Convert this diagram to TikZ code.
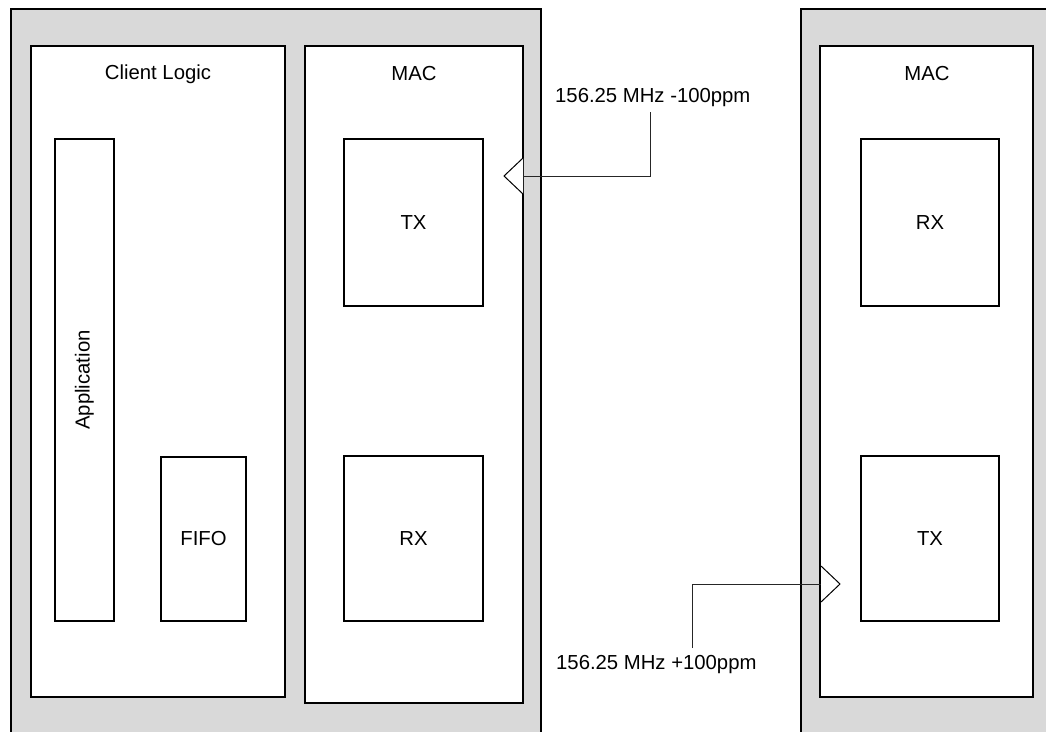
\documentclass[tikz,border=0pt]{standalone}
\usepackage{fontspec}
\setmainfont{Liberation Sans}
\begin{document}
\begin{tikzpicture}[x=1pt,y=-1pt,
  outerbox/.style={draw=black,fill=black!15,line width=1.5pt},
  blk/.style={draw=black,fill=white,line width=1.4pt,inner sep=0pt,outer sep=0pt,anchor=north west},
  lbl/.style={font=\fontsize{20.3}{24}\selectfont,inner sep=0pt},
  wire/.style={draw=black!85,line width=1pt},
  port/.style={draw=black,fill=white,line width=1pt,line join=miter}]
\useasboundingbox (0,0) rectangle (1046,731);
\begin{scope}
\clip (0,0) rectangle (1046,731);
\draw[outerbox] (11,9) rectangle (541,760);
\draw[outerbox] (801,9) rectangle (1080,760);
\end{scope}
% left side
\node[blk,minimum width=254pt,minimum height=651pt] (client) at (31,46) {};
\node[lbl,anchor=center] (clientlbl) at (158,74) {Client Logic};
\node[blk,minimum width=59pt,minimum height=482pt] (app) at (55,139) {};
\node[lbl,rotate=90] (applbl) at (app.center) {Application};
\node[blk,minimum width=85pt,minimum height=164pt] (fifo) at (161,457) {};
\node[lbl] (fifolbl) at (fifo.center) {FIFO};
\node[blk,minimum width=218pt,minimum height=657pt] (macl) at (305,46) {};
\node[lbl] (macllbl) at (414,74) {MAC};
\node[blk,minimum width=139pt,minimum height=167pt] (txl) at (344,139) {};
\node[lbl] (txllbl) at (txl.center) {TX};
\node[blk,minimum width=139pt,minimum height=165pt] (rxl) at (344,456) {};
\node[lbl] (rxllbl) at (rxl.center) {RX};
% right side
\node[blk,minimum width=213pt,minimum height=651pt] (macr) at (820,46) {};
\node[lbl] (macrlbl) at (927,74) {MAC};
\node[blk,minimum width=138pt,minimum height=167pt] (rxr) at (861,139) {};
\node[lbl] (rxrlbl) at (rxr.center) {RX};
\node[blk,minimum width=138pt,minimum height=165pt] (txr) at (861,456) {};
\node[lbl] (txrlbl) at (txr.center) {TX};
% clock labels
\node[lbl,anchor=west] (clk1) at (555,98) {156.25 MHz -100ppm};
\node[lbl,anchor=west] (clk2) at (556,665) {156.25 MHz +100ppm};
% clock ports
\coordinate (p1top) at (523,158);
\coordinate (p1tip) at (504,176);
\coordinate (p1bot) at (523,194);
\coordinate (p1base) at (523,176);
\coordinate (c1end) at (650,112);
\draw[port] (p1top) -- (p1tip) -- (p1bot);
\draw[wire] (c1end) |- (p1base);
\coordinate (p2top) at (821,566);
\coordinate (p2tip) at (840,584);
\coordinate (p2bot) at (821,602);
\coordinate (p2base) at (821,584);
\coordinate (c2end) at (692,648);
\draw[port] (p2top) -- (p2tip) -- (p2bot);
\draw[wire] (c2end) |- (p2base);
\end{tikzpicture}
\end{document}
